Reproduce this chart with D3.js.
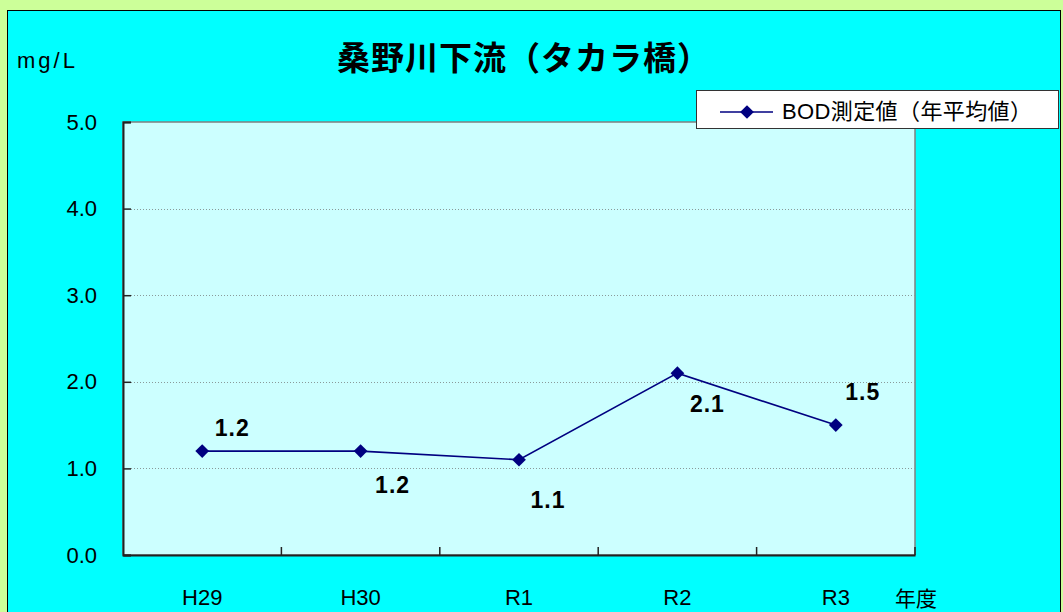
<!DOCTYPE html>
<html>
<head>
<meta charset="utf-8">
<script src="https://cdn.jsdelivr.net/npm/d3@7"></script>
<style>
  html, body { margin: 0; padding: 0; background: #ccff99; }
  svg { display: block; }
</style>
</head>
<body>
<div id="chart"></div>
<script>
// data
const categories = ["H29", "H30", "R1", "R2", "R3"];
const bodValues = [1.2, 1.2, 1.1, 2.1, 1.5];
const yTicks = [0, 1, 2, 3, 4, 5];
const gridTicks = [1, 2, 3, 4];

const title = "桑野川下流（タカラ橋）";
const seriesName = "BOD測定値（年平均値）";
const yUnit = "mg/L";
const xUnit = "年度";

// label placement around each marker (dx, dy from the point)
const labelOffsets = [[30, -15], [32, 42], [29, 48], [30, 39], [27, -25]];

const W = 1063, H = 612;
const PLOT = { left: 123, right: 915, top: 122, bottom: 555 };
const NAVY = "#000080";
const NUM_FONT = "'Liberation Sans', Arial, sans-serif";
const JP_FONT = "'Noto Sans CJK JP', 'Noto Sans', sans-serif";

const svg = d3.select("#chart").append("svg")
  .attr("width", W)
  .attr("height", H);

// outer frame
svg.append("rect")
  .attr("x", 0).attr("y", 0).attr("width", W).attr("height", H)
  .attr("fill", "#ccff99");
svg.append("rect")
  .attr("x", 7.5).attr("y", 10.5).attr("width", 1053).attr("height", 620)
  .attr("fill", "#00ffff")
  .attr("stroke", "#000").attr("stroke-width", 1);

const x = d3.scaleBand().domain(categories).range([PLOT.left, PLOT.right]);
const y = d3.scaleLinear().domain([0, 5]).range([PLOT.bottom, PLOT.top]);

// plot area
svg.append("rect")
  .attr("x", PLOT.left).attr("y", PLOT.top)
  .attr("width", PLOT.right - PLOT.left).attr("height", PLOT.bottom - PLOT.top)
  .attr("fill", "#ccffff")
  .attr("stroke", "#808080").attr("stroke-width", 1.5);

// dotted gridlines
svg.append("g")
  .selectAll("line")
  .data(gridTicks)
  .join("line")
  .attr("x1", PLOT.left + 8).attr("x2", PLOT.right)
  .attr("y1", d => Math.round(y(d)) + 0.5).attr("y2", d => Math.round(y(d)) + 0.5)
  .attr("stroke", "#8a9a9a").attr("stroke-width", 1)
  .attr("stroke-dasharray", "1,2");

// y axis
const yAxis = svg.append("g")
  .attr("transform", `translate(${PLOT.left},0)`)
  .call(d3.axisLeft(y).tickValues(yTicks).tickSize(-8).tickPadding(26)
    .tickFormat(d3.format(".1f")));
yAxis.select(".domain").attr("stroke", "#222").attr("stroke-width", 2);
yAxis.selectAll(".tick line").attr("stroke", "#222").attr("stroke-width", 1.5);
yAxis.selectAll(".tick text")
  .attr("font-family", NUM_FONT).attr("font-size", 22).attr("fill", "#000");

// x axis: labels at category centres
const xAxis = svg.append("g")
  .attr("transform", `translate(0,${PLOT.bottom})`)
  .call(d3.axisBottom(x).tickSize(0).tickPadding(34));
xAxis.select(".domain").attr("stroke", "#222").attr("stroke-width", 2);
xAxis.selectAll(".tick text")
  .attr("font-family", NUM_FONT).attr("font-size", 22).attr("fill", "#000");

// x ticks between categories
const bounds = categories.slice(1).map(c => x(c)).concat([PLOT.right]);
svg.append("g")
  .selectAll("line")
  .data(bounds)
  .join("line")
  .attr("x1", d => d).attr("x2", d => d)
  .attr("y1", PLOT.bottom).attr("y2", PLOT.bottom - 8)
  .attr("stroke", "#222").attr("stroke-width", 1.5);

// series line
const cx = (d, i) => x(categories[i]) + x.bandwidth() / 2;
const line = d3.line()
  .x((d, i) => cx(d, i))
  .y(d => y(d));

svg.append("path")
  .datum(bodValues)
  .attr("d", line)
  .attr("fill", "none")
  .attr("stroke", NAVY)
  .attr("stroke-width", 1.6);

const diamond = d3.symbol().type(d3.symbolDiamond2).size(120);

svg.append("g")
  .selectAll("path")
  .data(bodValues)
  .join("path")
  .attr("d", diamond)
  .attr("transform", (d, i) => `translate(${cx(d, i)},${y(d)})`)
  .attr("fill", NAVY);

// value labels
svg.append("g")
  .selectAll("text")
  .data(bodValues)
  .join("text")
  .attr("x", (d, i) => cx(d, i) + labelOffsets[i][0])
  .attr("y", (d, i) => y(d) + labelOffsets[i][1])
  .attr("text-anchor", "middle")
  .attr("font-family", NUM_FONT)
  .attr("font-weight", "bold")
  .attr("font-size", 23)
  .attr("letter-spacing", 1)
  .attr("fill", "#000")
  .text(d => d3.format(".1f")(d));

// title
svg.append("text")
  .attr("x", 337).attr("y", 70)
  .attr("textLength", 373).attr("lengthAdjust", "spacing")
  .attr("font-family", JP_FONT).attr("font-weight", "bold").attr("font-size", 33)
  .attr("fill", "#000")
  .text(title);

// unit labels
svg.append("text")
  .attr("x", 17).attr("y", 68)
  .attr("font-family", NUM_FONT).attr("font-size", 22)
  .attr("letter-spacing", 3)
  .attr("fill", "#000")
  .text(yUnit);

svg.append("text")
  .attr("x", 895).attr("y", 606)
  .attr("font-family", JP_FONT).attr("font-size", 21)
  .attr("fill", "#000")
  .text(xUnit);

// legend
const legend = svg.append("g").attr("transform", "translate(696,90)");
legend.append("rect")
  .attr("x", 0.5).attr("y", 0.5).attr("width", 362).attr("height", 38)
  .attr("fill", "#fff").attr("stroke", "#333").attr("stroke-width", 1);
legend.append("line")
  .attr("x1", 24).attr("x2", 77).attr("y1", 22).attr("y2", 22)
  .attr("stroke", NAVY).attr("stroke-width", 1.6);
legend.append("path")
  .attr("d", diamond)
  .attr("transform", "translate(51,22)")
  .attr("fill", NAVY);
legend.append("text")
  .attr("x", 86).attr("y", 29)
  .attr("textLength", 250).attr("lengthAdjust", "spacing")
  .attr("font-family", `'Liberation Sans', ${JP_FONT}`).attr("font-size", 22)
  .attr("fill", "#000")
  .text(seriesName);
</script>
</body>
</html>
